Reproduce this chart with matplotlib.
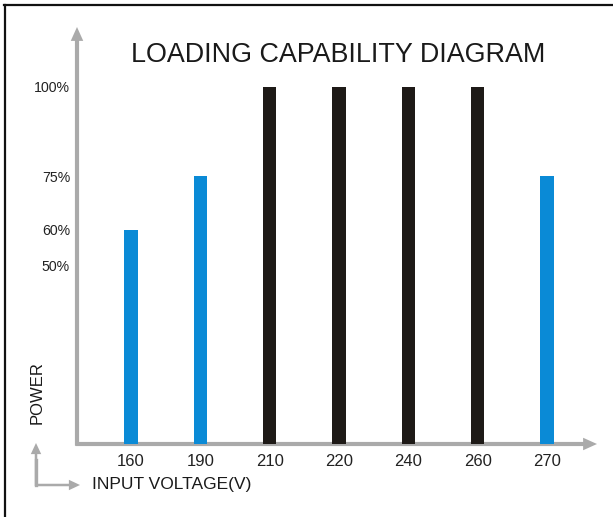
import matplotlib
matplotlib.use("Agg")
import matplotlib.pyplot as plt
from matplotlib.lines import Line2D

plt.rcParams['font.family'] = ['Liberation Sans', 'DejaVu Sans']

voltages = ["160", "190", "210", "220", "240", "260", "270"]
power = [60, 75, 100, 100, 100, 100, 75]
bar_colors = ["#0a8ad6", "#0a8ad6", "#1e1a17", "#1e1a17", "#1e1a17", "#1e1a17", "#0a8ad6"]
ytick_vals = [50, 60, 75, 100]
ytick_labels = ["50%", "60%", "75%", "100%"]

W, H = 613, 517
fig = plt.figure(figsize=(W / 100, H / 100), dpi=100)
fig.patch.set_facecolor("white")

# axes placed so the arrows line up with the picture
ax = fig.add_axes([77 / W, (H - 444) / H, (597 - 77) / W, (444 - 27) / H])
x = list(range(len(voltages)))
ax.bar(x, power, width=0.19, color=bar_colors, zorder=2)
ax.set_xlim(-0.78, 6.72)
ax.set_ylim(0, 116.8)
for s in ax.spines.values():
    s.set_visible(False)
ax.set_xticks(x)
ax.set_xticklabels(voltages, fontsize=12, color="#222222")
ax.set_yticks(ytick_vals)
ax.set_yticklabels(ytick_labels, fontsize=10.2, color="#222222")
ax.tick_params(axis="both", length=0)
ax.tick_params(axis="x", pad=7)
ax.tick_params(axis="y", pad=5)

grey = "#aaaaaa"
arrow = dict(width=3.0, headwidth=9, headlength=10, shrink=0, color=grey, lw=0)
ax.annotate("", xy=(0, 1), xytext=(0, -0.004), xycoords="axes fraction",
            textcoords="axes fraction", arrowprops=arrow, zorder=1)
ax.annotate("", xy=(1, 0), xytext=(-0.003, 0), xycoords="axes fraction",
            textcoords="axes fraction", arrowprops=arrow, zorder=1)

fig.text(338 / W, 1 - 55 / H, "LOADING CAPABILITY DIAGRAM", fontsize=19.4,
         ha="center", va="center", color="#1a1a1a")
fig.text(37 / W, 1 - 393 / H, "POWER", rotation=90, fontsize=12,
         ha="center", va="center", color="#1a1a1a")
fig.text(92 / W, 1 - 485 / H, "INPUT VOLTAGE(V)", fontsize=12.5,
         ha="left", va="center", color="#1a1a1a")

# small L-shaped legend arrows
small = dict(width=1.8, headwidth=7.5, headlength=8, shrink=0, color=grey, lw=0)
fig.add_artist(Line2D([36 / W, 36 / W], [1 - 485 / H, 1 - 460 / H],
                      transform=fig.transFigure, color=grey, lw=2.4))
ax.annotate("", xy=(36 / W, 1 - 443 / H), xytext=(36 / W, 1 - 486 / H),
            xycoords="figure fraction", textcoords="figure fraction", arrowprops=small)
ax.annotate("", xy=(80 / W, 1 - 485 / H), xytext=(35 / W, 1 - 485 / H),
            xycoords="figure fraction", textcoords="figure fraction", arrowprops=small)

# picture frame (left and top edges)
fig.add_artist(Line2D([4.5 / W, 4.5 / W], [0, 1 - 5 / H], transform=fig.transFigure,
                      color="#111111", lw=1.6))
fig.add_artist(Line2D([4 / W, 1], [1 - 5 / H, 1 - 5 / H], transform=fig.transFigure,
                      color="#111111", lw=1.6))

fig.savefig("out.png", dpi=100, facecolor="white")
